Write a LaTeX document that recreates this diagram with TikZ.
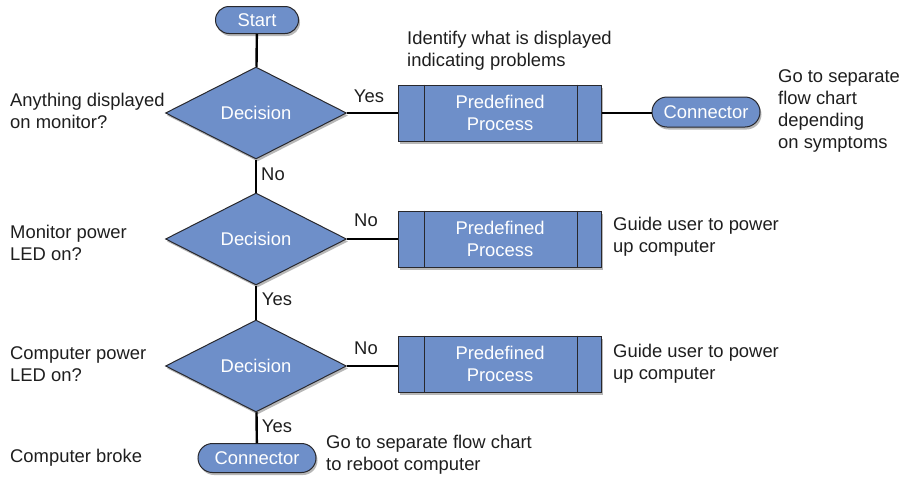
\documentclass[tikz,border=0pt]{standalone}
\usepackage{fontspec}
\setmainfont{Liberation Sans}
\usetikzlibrary{shapes.geometric,shapes.misc,shadows}
\definecolor{boxfill}{RGB}{110,143,201}
\definecolor{boxline}{RGB}{40,40,45}
\definecolor{txt}{RGB}{30,30,30}
\tikzset{
  shd/.style={drop shadow={shadow xshift=1.5pt,shadow yshift=-2.5pt,opacity=0.4,fill=black!70}},
  decbox/.style={diamond,draw=boxline,line width=1pt,fill=boxfill,shd,text=white,
    minimum width=181pt,minimum height=92pt,aspect=1.97,inner sep=0pt},
  procbox/.style={rectangle,draw=boxline,line width=1pt,fill=boxfill,shd,text=white,
    minimum width=203pt,minimum height=56pt,align=center,inner sep=0pt},
  pill/.style={rounded rectangle,draw=boxline,line width=1pt,fill=boxfill,shd,text=white,
    minimum height=28pt,inner sep=0pt},
  note/.style={text=txt,align=left,anchor=west,inner sep=0pt},
  lbl/.style={text=txt,inner sep=0pt},
  conn/.style={line width=2.4pt,black},
  procline/.style={draw=boxline,line width=1pt}
}
\begin{document}
\begin{tikzpicture}[x=1pt,y=-1pt,font=\fontsize{18.4}{22}\selectfont]
\useasboundingbox (0,0) rectangle (916,477);
% nodes
\node[pill,minimum width=83pt,minimum height=27pt] (start) at (257,20) {Start};
\node[decbox] (d1) at (256,113) {Decision};
\node[decbox] (d2) at (256,239) {Decision};
\node[decbox] (d3) at (256,366) {Decision};
\node[procbox] (p1) at (500,113) {Predefined\\Process};
\node[procbox] (p2) at (500,239) {Predefined\\Process};
\node[procbox] (p3) at (500,364) {Predefined\\Process};
\node[pill,minimum width=108pt,minimum height=30pt] (c1) at (706,112) {Connector};
\node[pill,minimum width=118pt,minimum height=29pt] (c2) at (257,458) {Connector};
% inner lines of predefined process
\foreach \p in {p1,p2,p3}{
  \draw[procline] ([xshift=26pt]\p.north west) -- ([xshift=26pt]\p.south west);
  \draw[procline] ([xshift=-25pt]\p.north east) -- ([xshift=-25pt]\p.south east);
}
% connectors
\draw[conn] (start) -- (d1);
\draw[conn] (d1) -- (d2);
\draw[conn] (d2) -- (d3);
\draw[conn] (d3) -- (c2);
\draw[conn] (d1.east) -- (d1.east -| p1.west);
\draw[conn] (p1.east) -- (p1.east -| c1.west);
\draw[conn] (d2.east) -- (d2.east -| p2.west);
\draw[conn] (d3.east) -- (d3.east -| p3.west);
% labels
\node[lbl] (y1) at (369,96) {Yes};
\node[lbl] (n1) at (273,174) {No};
\node[lbl] (n2) at (366,220) {No};
\node[lbl] (y2) at (277,299) {Yes};
\node[lbl] (n3) at (366,348) {No};
\node[lbl] (y3) at (277,426) {Yes};
% notes
\node[note] (t1) at (407,50.5) {Identify what is displayed\\indicating problems};
\node[note] (t2) at (778,111) {Go to separate\\flow chart\\depending\\on symptoms};
\node[note] (t3) at (10,111) {Anything displayed\\on monitor?};
\node[note] (t4) at (10,242.5) {Monitor power\\LED on?};
\node[note] (t5) at (10,364.5) {Computer power\\LED on?};
\node[note] (t6) at (10,458) {Computer broke};
\node[note] (t7) at (613,237) {Guide user to power\\up computer};
\node[note] (t8) at (613,364) {Guide user to power\\up computer};
\node[note] (t9) at (326,454.5) {Go to separate flow chart\\to reboot computer};
\end{tikzpicture}
\end{document}
